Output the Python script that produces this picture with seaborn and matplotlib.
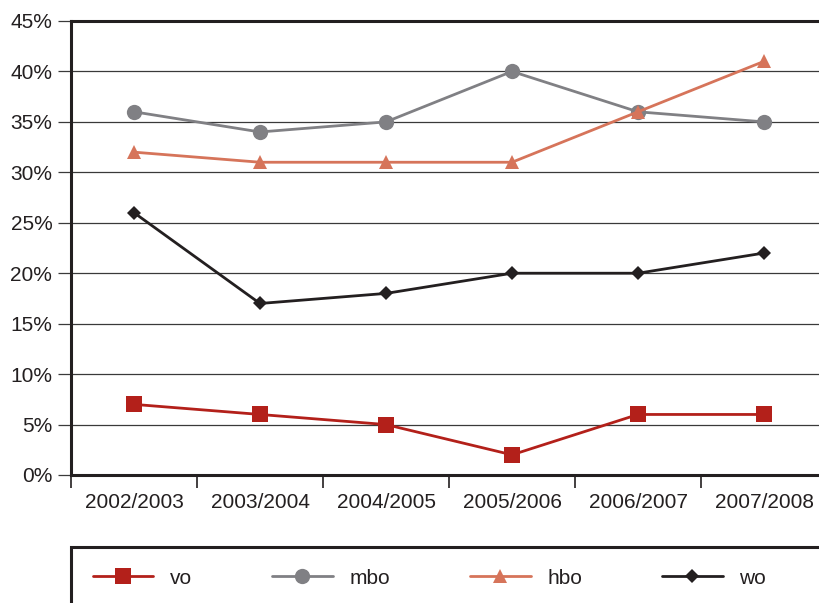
import seaborn as sns
import matplotlib.pyplot as plt
from matplotlib.patches import Rectangle
import pandas as pd

# Waarden (percentages)
jaren = ['2002/2003', '2003/2004', '2004/2005', '2005/2006', '2006/2007', '2007/2008']
vo = [7, 6, 5, 2, 6, 6]
mbo = [36, 34, 35, 40, 36, 35]
hbo = [32, 31, 31, 31, 36, 41]
wo = [26, 17, 18, 20, 20, 22]

reeksen = ['vo', 'mbo', 'hbo', 'wo']
kleuren = {'vo': '#B3201A', 'mbo': '#808084', 'hbo': '#D6745A', 'wo': '#231F20'}
markers = {'vo': 's', 'mbo': 'o', 'hbo': '^', 'wo': 'D'}
groottes = {'vo': 12, 'mbo': 11, 'hbo': 10.5, 'wo': 7.5}

df = pd.DataFrame({
    'jaar': jaren * 4,
    'waarde': vo + mbo + hbo + wo,
    'niveau': [r for r in reeksen for _ in jaren],
})

sns.set_style('white')
plt.rcParams['font.family'] = ['Liberation Sans', 'DejaVu Sans']
tekst = '#231F20'

fig = plt.figure(figsize=(8.19, 6.03), dpi=100)
ax = fig.add_axes([71 / 819, 128 / 603, 756 / 819, 454 / 603])

for r in reeksen:
    sub = df[df['niveau'] == r]
    sns.lineplot(data=sub, x='jaar', y='waarde', ax=ax, color=kleuren[r],
                 marker=markers[r], markersize=groottes[r], markeredgewidth=0,
                 linewidth=2.0, label=r, zorder=3)

ax.set_xlim(-0.5, 5.5)
ax.set_ylim(0, 45)
ax.set_xlabel('')
ax.set_ylabel('')

# horizontale lijnen
for y in range(5, 45, 5):
    ax.axhline(y, color='#3a3a3a', linewidth=0.9, zorder=1)

ax.set_yticks(range(0, 50, 5))
ax.set_yticklabels([f'{y}%' for y in range(0, 50, 5)])
ax.tick_params(axis='y', which='major', direction='out', length=9.5, width=0.9,
               color='#3a3a3a', pad=4, labelsize=15, labelcolor=tekst, left=True)

ax.set_xticks(range(len(jaren)))
ax.set_xticklabels(jaren)
ax.set_xticks([i - 0.5 for i in range(len(jaren) + 1)], minor=True)
ax.tick_params(axis='x', which='major', length=0, pad=13, labelsize=15, labelcolor=tekst)
ax.tick_params(axis='x', which='minor', direction='out', length=9.5, width=1.2,
               color=tekst, bottom=True)

for s in ['left', 'bottom', 'top']:
    ax.spines[s].set_visible(True)
    ax.spines[s].set_color(tekst)
    ax.spines[s].set_linewidth(2.2)
ax.spines['right'].set_visible(False)

handles, labels = ax.get_legend_handles_labels()
ax.get_legend().remove()

fig.add_artist(Rectangle((71 / 819, -0.2), 1.0, 0.2 + 56 / 603, transform=fig.transFigure,
                         fill=False, edgecolor=tekst, linewidth=2.2))
fig.legend(handles, labels, loc='center left', bbox_to_anchor=(74 / 819, 25 / 603),
           ncol=4, frameon=False, fontsize=15, handlelength=2.9, handletextpad=0.8,
           columnspacing=3.85, labelcolor=tekst)

fig.savefig('out.png', dpi=100)
